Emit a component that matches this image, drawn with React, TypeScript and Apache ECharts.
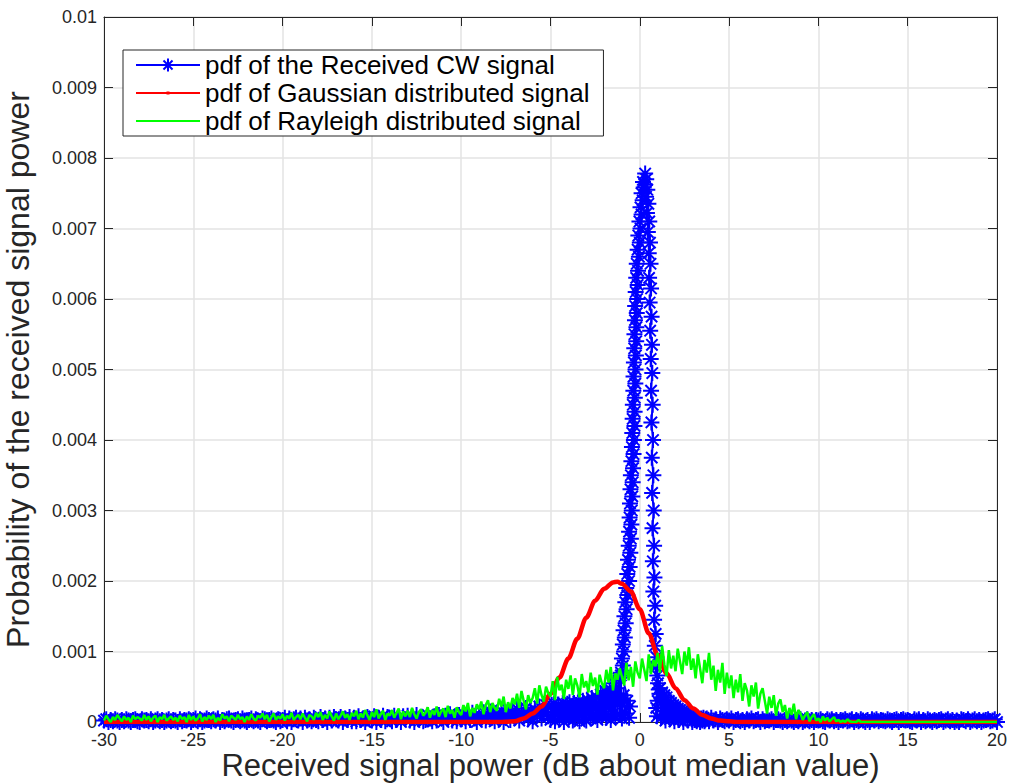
import React, { useEffect, useRef } from "react";
import * as echarts from "echarts";

// ---------- axes ----------
const X_MIN = -30;
const X_MAX = 20;
const X_STEP = 5;
const Y_MIN = 0;
const Y_MAX = 0.01;
const Y_STEP = 0.001;

const xAxisTitle = "Received signal power (dB about median value)";
const yAxisTitle = "Probability of the received signal power";
const legendNames = [
  "pdf of the Received CW signal",
  "pdf of Gaussian distributed signal",
  "pdf of Rayleigh distributed signal",
];

// all pdf values below are written in units of 1e-5
const PDF_UNIT = 1e-5;

// ---------- Rayleigh (green), sampled every 0.125 dB from -30 dB (one row per dB) ----------
const rayleighStart = -30;
const rayleighStep = 0.125;
const rayleighPdf = [
  2, 9, 4, 0, 7, 3, 10, 5,
  1, 8, 3, 6, 0, 9, 4, 7,
  5, 2, 10, 3, 8, 1, 6, 9,
  0, 7, 4, 10, 2, 5, 8, 3,
  6, 1, 9, 4, 7, 0, 10, 3,
  8, 2, 5, 11, 1, 7, 3, 9,
  4, 10, 0, 6, 2, 11, 5, 8,
  1, 9, 6, 3, 10, 4, 7, 0,
  8, 3, 11, 5, 2, 9, 6, 12,
  4, 10, 1, 7, 12, 3, 8, 5,
  11, 2, 9, 5, 13, 3, 7, 10,
  4, 12, 6, 1, 10, 8, 3, 13,
  7, 14, 3, 10, 5, 15, 8, 2,
  12, 4, 9, 15, 6, 11, 3, 13,
  8, 16, 4, 12, 6, 17, 9, 3,
  14, 7, 18, 5, 11, 16, 3, 12,
  9, 17, 6, 13, 19, 4, 15, 8,
  16, 7, 20, 11, 5, 14, 18, 9,
  13, 21, 6, 17, 10, 22, 8, 15,
  19, 7, 23, 12, 17, 6, 21, 14,
  10, 24, 15, 27, 8, 20, 13, 25,
  18, 29, 11, 24, 31, 14, 27, 20,
  16, 33, 22, 36, 14, 28, 19, 34,
  25, 40, 20, 44, 30, 18, 38, 27,
  34, 48, 26, 52, 38, 29, 50, 41,
  36, 58, 31, 64, 45, 53, 33, 60,
  47, 66, 38, 62, 52, 35, 68, 49,
  58, 42, 70, 51, 63, 39, 67, 55,
  48, 74, 56, 78, 45, 69, 60, 76,
  64, 52, 84, 59, 78, 50, 86, 70,
  62, 90, 74, 58, 96, 68, 88, 79,
  98, 70, 108, 82, 65, 102, 76, 94,
  72, 104, 86, 68, 100, 80, 106, 74,
  90, 62, 96, 76, 55, 88, 70, 98,
  60, 80, 44, 74, 56, 84, 40, 70,
  48, 66, 34, 60, 42, 68, 30, 55,
  45, 22, 52, 36, 56, 19, 40, 48,
  30, 12, 36, 20, 38, 9, 26, 32,
  14, 24, 5, 20, 10, 26, 4, 17,
  12, 3, 9, 14, 1, 7, 11, 2,
  5, 0, 8, 2, 6, 1, 4, 7,
  1, 3, 0, 2, 0, 4, 1, 0,
  0, 0, 3, 0, 0, 0, 0, 0,
];
const rayleighTail: [number, number][] = [[13, 0], [20, 0]];

// ---------- Gaussian (red) ----------
const gaussX = [
  -30, -8, -7.5, -7, -6.5, -6, -5.5, -5, -4.5, -4, -3.5, -3, -2.5, -2, -1.5, -1.25,
  -1, -0.5, 0, 0.5, 1, 1.5, 2, 2.5, 3, 3.5, 4, 4.5, 5, 5.5, 6, 20,
];
const gaussPdf = [
  0, 0, 0.3, 1, 5, 12, 22, 40, 63, 90, 118, 148, 172, 189, 198, 199,
  196, 185, 160, 126, 95, 69, 48, 31, 19, 10, 5, 2, 1, 0, 0, 0,
];

// ---------- Received CW signal (blue) ----------
// left tail: every 0.125 dB from -30 dB (one row per dB)
const cwLeftStart = -30;
const cwLeftStep = 0.125;
const cwLeftTail = [
  2, 4, 0, 3, 1, 4, 2, 0,
  3, 1, 4, 2, 0, 3, 4, 1,
  0, 4, 2, 3, 1, 4, 0, 2,
  4, 1, 3, 0, 2, 4, 1, 3,
  2, 0, 4, 1, 3, 2, 4, 0,
  3, 5, 1, 4, 0, 2, 5, 3,
  1, 4, 2, 5, 0, 3, 1, 4,
  5, 2, 0, 3, 4, 1, 5, 2,
  0, 3, 5, 1, 4, 2, 0, 5,
  4, 1, 3, 5, 2, 0, 4, 1,
  3, 6, 1, 5, 0, 4, 6, 2,
  5, 0, 6, 2, 4, 1, 6, 3,
  1, 7, 3, 5, 0, 6, 2, 7,
  4, 2, 7, 0, 5, 3, 7, 1,
  6, 1, 8, 3, 5, 0, 7, 4,
  2, 8, 0, 6, 3, 9, 1, 7,
  5, 1, 9, 3, 7, 0, 8, 4,
  9, 2, 6, 0, 10, 4, 7, 1,
  3, 10, 5, 1, 8, 2, 10, 6,
  0, 9, 4, 11, 2, 7, 1, 10,
  6, 12, 1, 9, 3, 13, 5, 0,
  11, 4, 14, 2, 8, 15, 6, 1,
  13, 5, 16, 0, 10, 17, 3, 12,
  7, 19, 2, 14, 9, 20, 4, 16,
  1, 18, 10, 22, 5, 15, 24, 8,
];
// rising flank: every 0.0625 dB from -5 dB
const cwFlankStart = -5;
const cwFlankStep = 0.0625;
const cwFlank = [
  3, 24, 9, 26, 1, 19, 14, 25, 5, 22, 11, 27, 0, 17, 8, 26,
  4, 28, 12, 21, 2, 27, 7, 24, 15, 29, 1, 20, 10, 30, 6, 23,
  2, 32, 13, 26, 5, 34, 9, 29, 18, 36, 3, 27, 11, 39, 7, 33,
  15, 44, 6, 38, 21, 47, 3, 41, 12, 55, 8, 48, 25, 62, 10, 66,
];
// peak: [dB, pdf] in plotting order
const cwPeak: [number, number][] = [
  [-1.0, 5], [-0.9, 38], [-0.8, 12], [-0.7, 30], [-0.6, 6], [-0.55, 22],
  [-1.05, 70], [-0.95, 80], [-1.0, 90], [-0.88, 100], [-0.95, 110], [-0.84, 120], [-0.91, 130],
  [-0.79, 140], [-0.86, 150], [-0.74, 160], [-0.81, 170], [-0.7, 180], [-0.76, 190], [-0.6, 200],
  [-0.7, 210], [-0.57, 220], [-0.66, 230], [-0.53, 240], [-0.62, 250], [-0.5, 260], [-0.6, 270],
  [-0.47, 280], [-0.57, 290], [-0.45, 300], [-0.55, 310], [-0.42, 320], [-0.52, 330], [-0.4, 340],
  [-0.5, 350], [-0.38, 360], [-0.47, 370], [-0.35, 380], [-0.44, 390], [-0.33, 400], [-0.42, 410],
  [-0.3, 420], [-0.4, 430], [-0.29, 440], [-0.39, 450], [-0.28, 460], [-0.36, 470], [-0.25, 480],
  [-0.35, 490], [-0.24, 500], [-0.33, 510], [-0.22, 520], [-0.31, 530], [-0.2, 540], [-0.3, 550],
  [-0.19, 560], [-0.27, 570], [-0.17, 580], [-0.26, 590], [-0.15, 600], [-0.23, 610], [-0.12, 620],
  [-0.2, 630], [-0.1, 640], [-0.17, 650], [-0.05, 660], [-0.12, 670], [0.0, 680], [-0.08, 690],
  [0.04, 700], [-0.02, 710], [0.1, 720], [0.04, 730], [0.16, 740], [0.1, 750], [0.22, 758],
  [0.18, 766], [0.3, 778],
  [0.36, 770], [0.28, 762], [0.42, 755], [0.35, 745], [0.48, 735], [0.4, 722], [0.53, 710],
  [0.45, 695], [0.57, 680], [0.5, 665], [0.6, 650], [0.52, 630], [0.63, 615], [0.55, 595],
  [0.66, 575], [0.58, 555], [0.68, 535], [0.61, 515], [0.7, 495], [0.63, 470], [0.72, 450],
  [0.65, 425], [0.74, 400], [0.67, 375], [0.76, 350], [0.69, 325], [0.78, 300], [0.71, 275],
  [0.8, 250], [0.73, 228], [0.82, 205], [0.76, 185], [0.86, 165], [0.8, 145], [0.89, 125],
  [0.84, 108], [0.93, 92], [0.88, 78], [0.98, 66], [0.92, 20], [1.02, 55], [0.96, 8], [1.06, 46],
  [1.0, 30], [1.1, 40],
];
// falling flank: every 0.0625 dB from 1.125 dB
const cwFallStart = 1.125;
const cwFallStep = 0.0625;
const cwFall = [
  48, 6, 42, 15, 38, 2, 35, 11, 30, 4, 27, 9, 24, 1, 22, 8,
  19, 3, 17, 7, 15, 0, 14, 5, 12, 2, 11, 6, 9, 0, 8, 3,
  7, 1, 6, 4, 0, 5, 2, 6, 1, 4,
];
// right tail: every 0.125 dB from 3.75 dB
const cwRightStart = 3.75;
const cwRightStep = 0.125;
const cwRightTail = [
  5, 1, 6, 2, 4, 0, 5, 3,
  1, 4, 2, 5, 0, 3, 4, 1,
  3, 0, 4, 2, 5, 1, 3, 4,
  0, 4, 1, 3, 2, 4, 0, 3,
  4, 2, 0, 3, 1, 4, 2, 0,
  3, 1, 4, 0, 2, 4, 1, 3,
  0, 3, 2, 4, 1, 0, 4, 2,
  4, 1, 3, 0, 3, 2, 4, 1,
  2, 4, 0, 3, 1, 4, 2, 0,
  3, 0, 4, 2, 4, 1, 3, 2,
  1, 4, 2, 0, 3, 4, 0, 3,
  4, 2, 3, 1, 0, 4, 2, 4,
  0, 3, 1, 4, 2, 0, 3, 1,
  3, 4, 0, 2, 4, 1, 3, 0,
  2, 0, 4, 3, 1, 4, 0, 2,
  4, 1, 3, 0, 2, 3, 4, 1,
  2, 4, 0,
];

const FONT = "'Liberation Sans', Arial, Helvetica, sans-serif";
const INK = "#262626";
const STAR = "path://M5,0V10M0,5H10M1.46,1.46L8.54,8.54M1.46,8.54L8.54,1.46";

const grid = (values: number[], start: number, step: number) =>
  values.map((v, i) => [start + i * step, v * PDF_UNIT]);
const pairs = (list: [number, number][]) => list.map(([x, v]) => [x, v * PDF_UNIT]);

export default function App() {
  const ref = useRef<HTMLDivElement>(null);

  useEffect(() => {
    if (!ref.current) return;
    const chart = echarts.init(ref.current, undefined, { renderer: "svg" });

    const blueData = [
      ...grid(cwLeftTail, cwLeftStart, cwLeftStep),
      ...grid(cwFlank, cwFlankStart, cwFlankStep),
      ...pairs(cwPeak),
      ...grid(cwFall, cwFallStart, cwFallStep),
      ...grid(cwRightTail, cwRightStart, cwRightStep),
    ];
    const redData = gaussX.map((x, i) => [x, gaussPdf[i] * PDF_UNIT]);
    const greenData = [
      ...grid(rayleighPdf, rayleighStart, rayleighStep),
      ...pairs(rayleighTail),
    ];

    const boxAxis = {
      axisLine: { show: true, onZero: false, lineStyle: { color: INK, width: 1 } },
      axisTick: { show: true, inside: true, length: 9, lineStyle: { color: INK } },
    };

    chart.setOption({
      animation: false,
      backgroundColor: "#ffffff",
      grid: { left: 104, right: 14, top: 17, bottom: 62, outerBoundsMode: "none" },
      legend: {
        orient: "vertical",
        left: 123,
        top: 50,
        padding: [2, 14, 2, 12],
        itemGap: 2,
        itemWidth: 64,
        itemHeight: 16,
        borderColor: INK,
        borderWidth: 1,
        backgroundColor: "#ffffff",
        selectedMode: false,
        textStyle: { fontSize: 26, color: "#000", fontFamily: FONT, lineHeight: 26 },
        data: [
          { name: legendNames[0] },
          { name: legendNames[1], icon: "path://M0,1H64V3H0Z M30.5,0.5H33.5V3.5H30.5Z" },
          { name: legendNames[2], icon: "path://M0,0H64V2H0Z" },
        ],
      },
      xAxis: [
        {
          type: "value",
          position: "bottom",
          min: X_MIN,
          max: X_MAX,
          interval: X_STEP,
          ...boxAxis,
          axisLabel: { margin: 9, fontSize: 18, lineHeight: 18, color: INK, fontFamily: FONT },
          splitLine: { show: true, lineStyle: { color: "#e3e3e3", width: 1.5 } },
          name: xAxisTitle,
          nameLocation: "middle",
          nameGap: 28,
          nameMoveOverlap: false,
          nameTextStyle: { fontSize: 31, lineHeight: 31, color: INK, fontFamily: FONT },
        },
        {
          type: "value",
          position: "top",
          min: X_MIN,
          max: X_MAX,
          interval: X_STEP,
          ...boxAxis,
          axisLabel: { show: false },
          splitLine: { show: false },
        },
      ],
      yAxis: [
        {
          type: "value",
          position: "left",
          min: Y_MIN,
          max: Y_MAX,
          interval: Y_STEP,
          ...boxAxis,
          axisLabel: {
            margin: 7,
            fontSize: 18,
            lineHeight: 18,
            color: INK,
            fontFamily: FONT,
            formatter: (v: number) => (v === 0 ? "0" : String(parseFloat(v.toFixed(4)))),
          },
          splitLine: { show: true, lineStyle: { color: "#e3e3e3", width: 1.5 } },
          name: yAxisTitle,
          nameLocation: "middle",
          nameGap: 70,
          nameMoveOverlap: false,
          nameTextStyle: { fontSize: 32, color: INK, fontFamily: FONT },
        },
        {
          type: "value",
          position: "right",
          min: Y_MIN,
          max: Y_MAX,
          interval: Y_STEP,
          ...boxAxis,
          axisLabel: { show: false },
          splitLine: { show: false },
        },
      ],
      series: [
        {
          name: legendNames[0],
          type: "line",
          data: blueData,
          symbol: STAR,
          symbolSize: 16,
          showSymbol: true,
          showAllSymbol: true,
          lineStyle: { color: "#0000ff", width: 2 },
          itemStyle: { color: "#0000ff", borderColor: "#0000ff", borderWidth: 2 },
          emphasis: { disabled: true },
          z: 2,
        },
        {
          name: legendNames[1],
          type: "line",
          data: redData,
          smooth: 0.3,
          smoothMonotone: "x",
          symbol: "none",
          lineStyle: { color: "#ff0000", width: 4.5 },
          itemStyle: { color: "#ff0000" },
          emphasis: { disabled: true },
          z: 3,
        },
        {
          name: legendNames[2],
          type: "line",
          data: greenData,
          symbol: "none",
          lineStyle: { color: "#00ff00", width: 2.5 },
          itemStyle: { color: "#00ff00" },
          emphasis: { disabled: true },
          z: 4,
        },
      ],
    });

    return () => chart.dispose();
  }, []);

  return (
    <div
      ref={ref}
      style={{ position: "fixed", left: 0, top: 0, width: 1011, height: 784, background: "#fff" }}
    />
  );
}
